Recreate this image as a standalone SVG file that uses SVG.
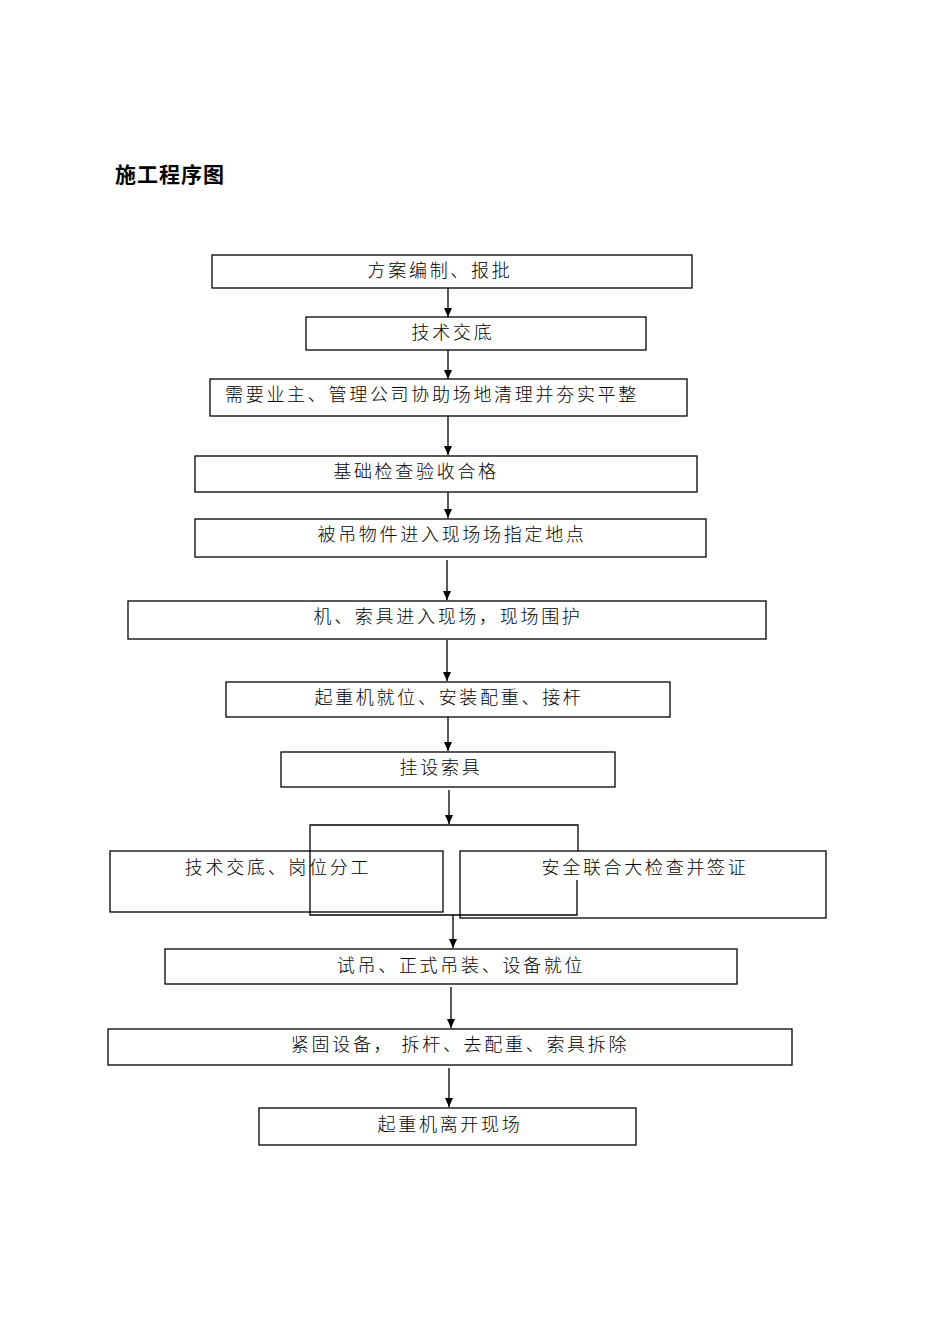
<svg xmlns="http://www.w3.org/2000/svg" width="950" height="1344" viewBox="0 0 950 1344">
<style>
.b{fill:none;stroke:#000;stroke-width:1.3}
.t{font-family:"Liberation Serif","Noto Sans CJK SC",serif;font-size:18px;text-anchor:middle;fill:#000;letter-spacing:2.7px;font-weight:300}
.c{fill:none;stroke:#000;stroke-width:1.3}
</style>
<defs><marker id="a" markerWidth="10" markerHeight="10" refX="9" refY="5" orient="auto" markerUnits="userSpaceOnUse"><path d="M0,1 L9,5 L0,9z" fill="#000"/></marker></defs>
<rect width="950" height="1344" fill="#fff"/>
<text x="115" y="182" style="font-family:'Noto Sans CJK SC',sans-serif;font-size:21px;font-weight:bold;letter-spacing:1px">施工程序图</text>
<g id="n1"><rect class="b" x="212" y="255" width="480" height="33"/><text class="t" x="440" y="277">方案编制、报批</text></g>
<g id="n2"><rect class="b" x="306" y="317" width="340" height="33"/><text class="t" x="453" y="339">技术交底</text></g>
<g id="n3"><rect class="b" x="210" y="379" width="477" height="37"/><text class="t" x="432" y="401">需要业主、管理公司协助场地清理并夯实平整</text></g>
<g id="n4"><rect class="b" x="195" y="456" width="502" height="36"/><text class="t" x="416" y="478">基础检查验收合格</text></g>
<g id="n5"><rect class="b" x="195" y="519" width="511" height="38"/><text class="t" x="452" y="541">被吊物件进入现场场指定地点</text></g>
<g id="n6"><rect class="b" x="128" y="601" width="638" height="38"/><text class="t" x="448" y="623">机、索具进入现场，现场围护</text></g>
<g id="n7"><rect class="b" x="226" y="682" width="444" height="35"/><text class="t" x="449" y="704">起重机就位、安装配重、接杆</text></g>
<g id="n8"><rect class="b" x="281" y="752" width="334" height="35"/><text class="t" x="441" y="774">挂设索具</text></g>
<g id="n9"><rect class="b" x="110" y="851" width="333" height="61"/><text class="t" x="278" y="874">技术交底、岗位分工</text></g>
<g id="n10"><rect class="b" x="460" y="851" width="366" height="67"/><text class="t" x="645" y="874">安全联合大检查并签证</text></g>
<g id="n11"><rect class="b" x="165" y="949" width="572" height="35"/><text class="t" x="461" y="972">试吊、正式吊装、设备就位</text></g>
<g id="n12"><rect class="b" x="108" y="1029" width="684" height="36"/><text class="t" x="460" y="1051">紧固设备， 拆杆、去配重、索具拆除</text></g>
<g id="n13"><rect class="b" x="259" y="1108" width="377" height="37"/><text class="t" x="450" y="1131">起重机离开现场</text></g>
<g id="connectors">
<path class="c" marker-end="url(#a)" d="M448,288 V317"/>
<path class="c" marker-end="url(#a)" d="M448,350 V379"/>
<path class="c" marker-end="url(#a)" d="M448,416 V455"/>
<path class="c" marker-end="url(#a)" d="M448,492 V518"/>
<path class="c" marker-end="url(#a)" d="M447,560 V600"/>
<path class="c" marker-end="url(#a)" d="M447,640 V681"/>
<path class="c" marker-end="url(#a)" d="M448,717 V751"/>
<path class="c" marker-end="url(#a)" d="M449,790 V824"/>
<path class="c" d="M310,851 V825 H578 V851"/>
<path class="c" d="M310,851 V915 H577 V880"/>
<path class="c" marker-end="url(#a)" d="M453,915 V948"/>
<path class="c" marker-end="url(#a)" d="M451,987 V1028"/>
<path class="c" marker-end="url(#a)" d="M449,1068 V1107"/>
</g>
</svg>
